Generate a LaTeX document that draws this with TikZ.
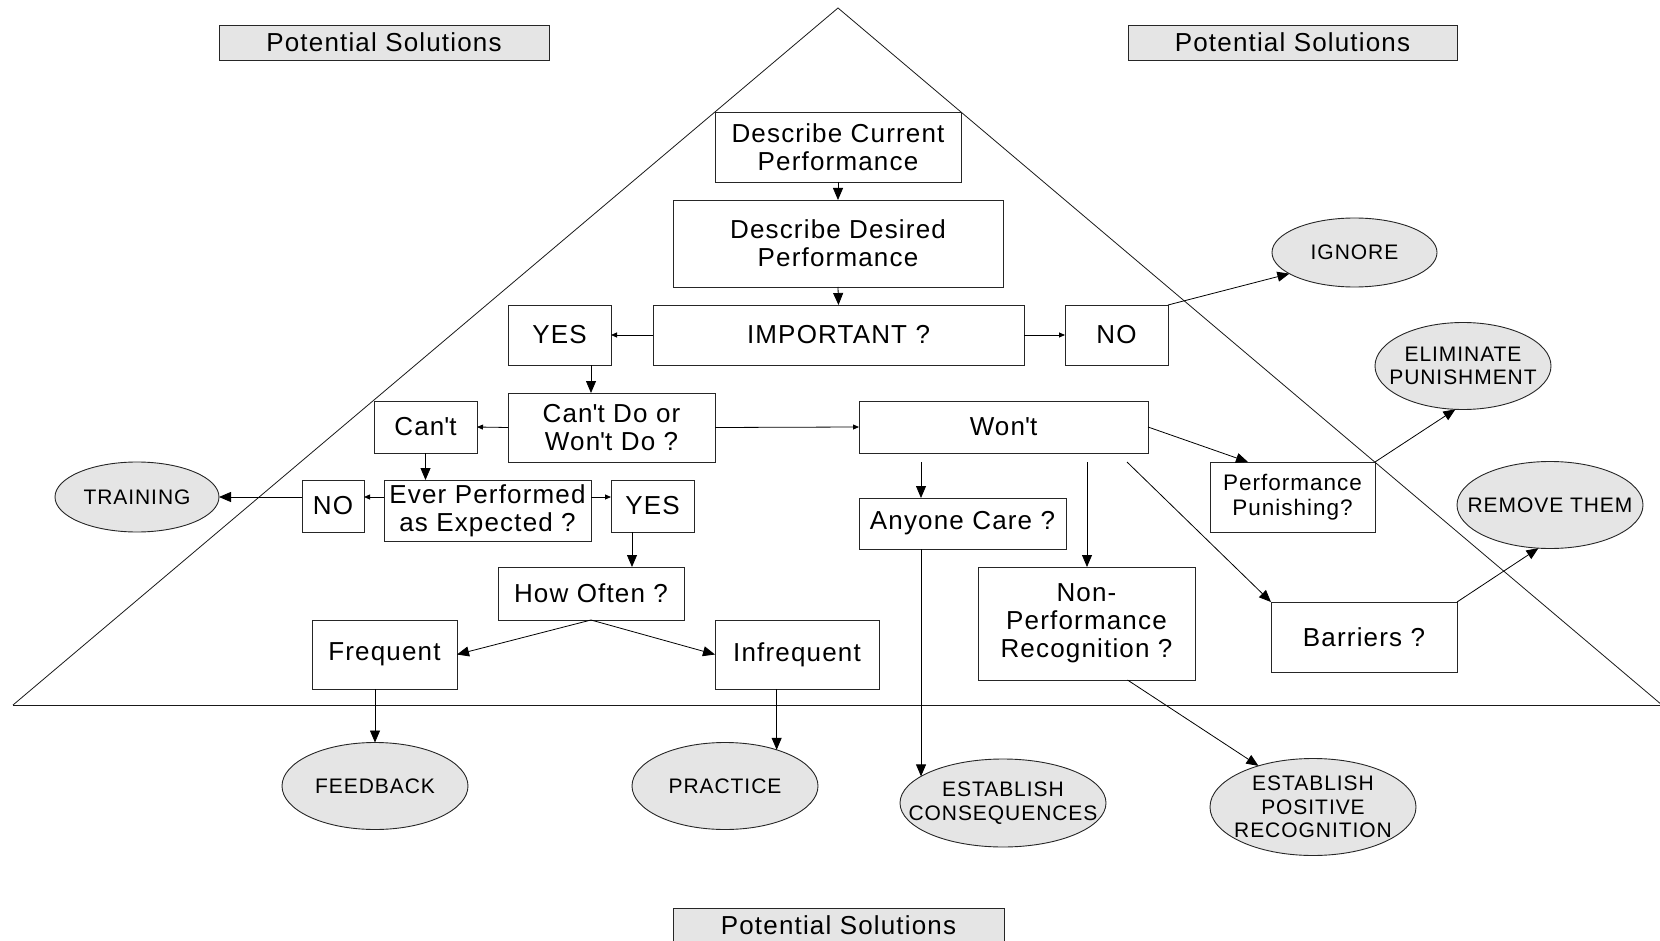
\documentclass[tikz,border=0pt]{standalone}
\usepackage{fontspec}
\setmainfont{Liberation Sans}[LetterSpace=4.5]
\usetikzlibrary{shapes.geometric,arrows.meta}
\newcommand{\sq}{\textquotesingle}
\tikzset{
  box/.style={draw=black!85, line width=0.9pt, fill=white, rectangle, inner sep=0pt, outer sep=0pt, align=center, font=\fontsize{26}{28}\selectfont},
  psbox/.style={box, fill=black!10},
  ell/.style={draw=black!85, line width=0.9pt, fill=black!10, ellipse, inner sep=0pt, outer sep=0pt},
  etext/.style={align=center, font=\fontsize{21}{23.3}\selectfont, inner sep=0pt},
  conn/.style={line width=0.8pt, -{Triangle[length=12pt,width=10pt]}},
  smallconn/.style={line width=0.8pt, -{Triangle[length=6pt,width=5pt]}},
  tri/.style={line width=0.8pt, black!90}
}
\begin{document}
\begin{tikzpicture}[x=1pt,y=-1pt]
\useasboundingbox (0,0) rectangle (1660,941);
% pyramid
\coordinate (apex) at (838,8);
\coordinate (bl) at (13,705);
\coordinate (br) at (1662,705);
\draw[tri] (bl) -- (apex) -- (br);
\draw[tri] (bl) -- (br);

% header boxes
\node[psbox, minimum width=330, minimum height=35] (ps1) at (384,42.5) {Potential Solutions};
\node[psbox, minimum width=329, minimum height=35] (ps2) at (1292.5,42.5) {Potential Solutions};
\node[psbox, minimum width=331, minimum height=35] (ps3) at (838.5,925.5) {Potential Solutions};

% main boxes
\node[box, minimum width=246, minimum height=70] (cur) at (838,147) {Describe Current\\Performance};
\node[box, minimum width=330, minimum height=87] (des) at (838,243.5) {Describe Desired\\Performance};
\node[box, minimum width=371, minimum height=60] (imp) at (838.5,335) {IMPORTANT ?};
\node[box, minimum width=103, minimum height=60] (yes1) at (559.5,335) {YES};
\node[box, minimum width=103, minimum height=60] (no1) at (1116.5,335) {NO};
\node[box, minimum width=207, minimum height=69] (cwd) at (611.5,427.5) {Can\sq t Do or\\Won\sq t Do ?};
\node[box, minimum width=103, minimum height=52] (cant) at (425.5,427) {Can\sq t};
\node[box, minimum width=289, minimum height=52] (wont) at (1003.5,427) {Won\sq t};
\node[box, minimum width=207, minimum height=61] (ever) at (487.5,510.5) {Ever Performed\\as Expected ?};
\node[box, minimum width=62, minimum height=52] (no2) at (333,506) {NO};
\node[box, minimum width=83, minimum height=52] (yes2) at (652.5,506) {YES};
\node[box, minimum width=186, minimum height=53] (how) at (591,593.5) {How Often ?};
\node[box, minimum width=145, minimum height=69] (freq) at (384.5,654.5) {Frequent};
\node[box, minimum width=164, minimum height=69] (infreq) at (797,654.5) {Infrequent};
\node[box, minimum width=207, minimum height=51] (anyone) at (962.5,523.5) {Anyone Care ?};
\node[box, minimum width=217, minimum height=113] (nonperf) at (1086.5,623.5) {Non-\\Performance\\Recognition ?};
\node[box, minimum width=165, minimum height=70, font=\fontsize{22.5}{25}\selectfont] (punish) at (1292.5,497) {Performance\\Punishing?};
\node[box, minimum width=186, minimum height=70] (barriers) at (1364,637) {Barriers ?};

% ellipses
\node[ell, minimum width=165, minimum height=69, label={[etext]center:IGNORE}] (ignore) at (1354.5,252.5) {};
\node[ell, minimum width=176, minimum height=87, label={[etext]center:ELIMINATE\\PUNISHMENT}] (elim) at (1463,366) {};
\node[ell, minimum width=186, minimum height=87, label={[etext]center:REMOVE THEM}] (remove) at (1550,505) {};
\node[ell, minimum width=164, minimum height=70, label={[etext]center:TRAINING}] (train) at (137,497) {};
\node[ell, minimum width=186, minimum height=87, label={[etext]center:FEEDBACK}] (feed) at (375,786) {};
\node[ell, minimum width=186, minimum height=87, label={[etext]center:PRACTICE}] (prac) at (725,786) {};
\node[ell, minimum width=206, minimum height=88, label={[etext]center:ESTABLISH\\CONSEQUENCES}] (estcons) at (1003,803) {};
\node[ell, minimum width=206, minimum height=97, label={[etext]center:ESTABLISH\\POSITIVE\\RECOGNITION}] (estpos) at (1313,807) {};

% connector helper coordinates
\coordinate (c591) at (591,0);
\coordinate (c632) at (632,0);
\coordinate (w1) at (921,462);
\coordinate (w2) at (1087,462);
\coordinate (w3) at (1127,462);

% connectors
\draw[conn] (cur.south) -- (des.north);
\draw[conn] (des.south) -- (imp.north);
\draw[smallconn] (imp.west) -- (yes1.east);
\draw[smallconn] (imp.east) -- (no1.west);
\draw[conn] (no1.north east) -- (ignore.198);
\draw[conn] (yes1.south -| c591) -- (cwd.north -| c591);
\draw[smallconn] (cwd.west) -- (cant.east);
\draw[smallconn] (cwd.east) -- (wont.west);
\draw[conn] (cant.south) -- (ever.north -| cant.south);
\draw[smallconn] (ever.west |- train.east) -- (no2.east |- train.east);
\draw[smallconn] (ever.east |- train.east) -- (yes2.west |- train.east);
\draw[conn] (no2.west |- train.east) -- (train.east);
\draw[conn] (yes2.south -| c632) -- (how.north -| c632);
\draw[conn] (how.south) -- (freq.east);
\draw[conn] (how.south) -- (infreq.west);
\draw[conn] (freq.south -| feed.north) -- (feed.north);
\draw[conn] (infreq.south -| prac.35) -- (prac.35);
\draw[conn] (w1) -- (anyone.north -| w1);
\draw[conn] (w2) -- (nonperf.north -| w2);
\draw[conn] (w3) -- (barriers.north west);
\draw[conn] (wont.east) -- ([xshift=38pt]punish.north west);
\draw[conn] (punish.north east) -- (elim.260);
\draw[conn] (barriers.north east) -- (remove.255);
\draw[conn] (anyone.south -| estcons.162) -- (estcons.162);
\draw[conn] ([xshift=41pt]nonperf.south) -- (estpos.143);
\end{tikzpicture}
\end{document}
